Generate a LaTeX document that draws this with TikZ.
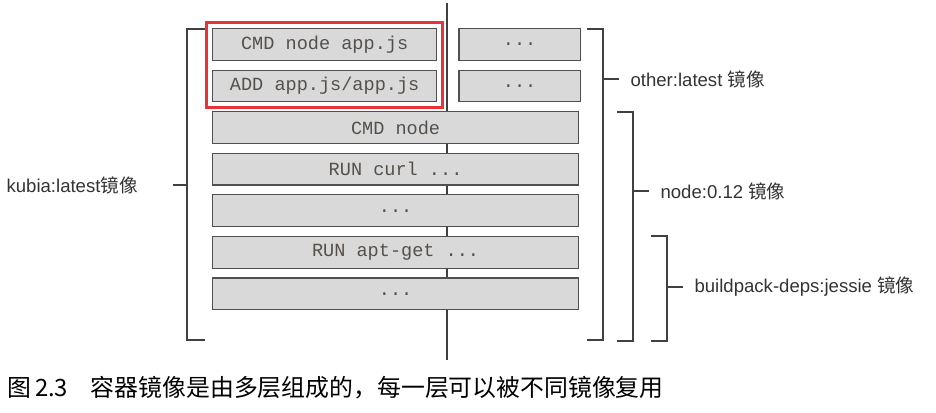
\documentclass[tikz,border=0pt]{standalone}
\usepackage{fontspec}
\setmainfont{Liberation Sans}
\setmonofont{Liberation Mono}
\newfontfamily\cjk{Noto Sans CJK SC}
\usetikzlibrary{positioning,fit}
\definecolor{layerfill}{RGB}{217,217,217}
\definecolor{layerline}{RGB}{80,80,80}
\definecolor{layertext}{RGB}{85,80,75}
\definecolor{hlred}{RGB}{232,52,56}

\begin{document}
\begin{tikzpicture}[
x=0.0265cm, y=-0.0265cm,
node distance=0.23cm,
layer/.style={draw=layerline, fill=layerfill, line width=0.9pt, minimum height=0.84cm, minimum width=9.7cm, inner sep=0pt, font=\ttfamily\fontsize{14}{16}\selectfont, text=layertext},
toplayer/.style={layer, minimum width=5.94cm},
sidelayer/.style={layer, minimum width=3.21cm},
brk/.style={draw=black!75, line width=0.9pt},
lbl/.style={font=\fontsize{14}{17}\selectfont, text=black!80, inner sep=0pt}
]
\useasboundingbox (0,0) rectangle (936,412);
% shared axis behind the layers
\coordinate (axtop) at (447,3);
\coordinate (axbot) at (447,360);
\draw[black!75, line width=1pt] (axtop) -- (axbot);

% layer stack
\node[toplayer, anchor=north west] (cmdapp) at (212,28) {CMD node app.js};
\node[toplayer, below=of cmdapp] (addapp) {ADD app.js/app.js};
\node[layer, below=of addapp.south west, anchor=north west] (cmdnode) {CMD node};
\node[layer, below=of cmdnode] (runcurl) {RUN curl ...};
\node[layer, below=of runcurl] (midlayer) {...};
\node[layer, below=of midlayer] (runapt) {RUN apt-get ...};
\node[layer, below=of runapt] (baselayer) {...};
\node[sidelayer, right=0.56cm of cmdapp] (other1) {...};
\node[sidelayer, right=0.56cm of addapp] (other2) {...};
\node[draw=hlred, line width=2.2pt, fit=(cmdapp)(addapp), inner sep=0.14cm] (hl) {};

% kubia bracket
\draw[brk] (205,29) -- (187,29) -- (187,340) -- (205,340);
\coordinate (kubia-brk) at (187,185);
\coordinate (kubia-tick) at (173,185);
\draw[brk] (kubia-brk) -- (kubia-tick);
\node[lbl, left=0.93cm of kubia-tick] (kubia-lbl) {kubia:latest{\cjk 镜像}};

% image brackets on the right
\foreach \nm/\bx/\ty/\by/\my/\txt in {other/603/29/340/79/{other:latest {\cjk 镜像}},
    nodeimg/633/112/341/191/{node:0.12 {\cjk 镜像}},
    deps/667/236/341/287/{buildpack-deps:jessie {\cjk 镜像}}} {
  \draw[brk] (\bx-16,\ty) -- (\bx,\ty) -- (\bx,\by) -- (\bx-16,\by);
  \coordinate (\nm-brk) at (\bx,\my);
  \coordinate (\nm-tick) at (\bx+16,\my);
  \draw[brk] (\nm-brk) -- (\nm-tick);
  \node[lbl, right=0.3cm of \nm-tick] (\nm-lbl) {\txt};
}

\node[anchor=west, inner sep=0pt, font=\cjk\fontsize{18}{20}\selectfont] (caption) at (7,388)
  {图\,2.3\hspace{0.6cm}容器镜像是由多层组成的，每一层可以被不同镜像复用};
\end{tikzpicture}
\end{document}
